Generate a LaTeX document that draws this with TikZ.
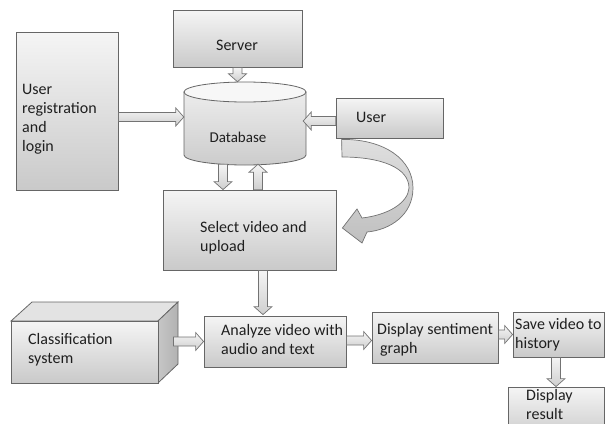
\documentclass[tikz,border=0pt]{standalone}
\usepackage{fontspec}
\setmainfont{Carlito}
\usetikzlibrary{calc}
\tikzset{
  boxsty/.style={draw=black!60, top color=gray!8, bottom color=gray!42, line width=0.8pt, inner sep=0pt},
  txt/.style={font=\fontsize{16}{19}\selectfont, align=left, inner sep=0pt, text=black!88},
  barrowsty/.style={draw=black!55, top color=gray!8, bottom color=gray!38, line width=0.7pt, line join=miter},
  curvesty/.style={draw=black!55, top color=gray!25, bottom color=gray!50, line width=0.7pt},
}
% block arrow from #1 to #2
\newcommand\blockarrow[2]{%
  \path let \p1=(#1), \p2=(#2) in \pgfextra{%
    \pgfmathsetmacro\tmpA{atan2((\y2)-(\y1),(\x2)-(\x1))}\xdef\baAng{\tmpA}%
    \pgfmathsetmacro\tmpL{veclen((\x2)-(\x1),(\y2)-(\y1))}\xdef\baLen{\tmpL}};
  \draw[barrowsty, shift={(#1)}, rotate=\baAng]
    (0,-4.5) -- ({\baLen-8},-4.5) -- ({\baLen-8},-9) -- (\baLen,0)
    -- ({\baLen-8},9) -- ({\baLen-8},4.5) -- (0,4.5) -- cycle;
}
\begin{document}
\begin{tikzpicture}[x=1pt,y=-1pt]
\useasboundingbox (0,0) rectangle (605,423);

% boxes
\node[boxsty, minimum width=129, minimum height=57] (server) at (237.5,38.5) {};
\node[txt] (servertxt) at (237,45) {Server};

\node[boxsty, minimum width=102, minimum height=158] (reg) at (67,111) {};
\node[txt, anchor=west] (regtxt) at (22,119) {User\\registration\\and\\login};

\node[boxsty, minimum width=107, minimum height=40] (user) at (389.5,118) {};
\node[txt, anchor=west] (usertxt) at (356,117) {User};

% database cylinder
\node[minimum width=122, minimum height=83, inner sep=0pt] (db) at (245,123.5) {};
\path[boxsty, top color=gray!15, bottom color=gray!40]
  (184,92) -- (184,155) .. controls (184,160.5) and (211.3,165) .. (245,165)
  .. controls (278.7,165) and (306,160.5) .. (306,155) -- (306,92) -- cycle;
\draw[black!60, line width=0.8pt, fill=gray!6] (245,92) ellipse [x radius=61, y radius=10];
\node[txt, font=\fontsize{15}{18}\selectfont] (dbtxt) at (238,137) {Database};

\node[boxsty, minimum width=173, minimum height=80] (sel) at (249.5,230) {};
\node[txt, anchor=west] (seltxt) at (200,238) {Select video and\\upload};

% classification 3D box
\path[draw=black!60, line width=0.8pt, fill=gray!22] (11,321) -- (32,302) -- (178,302) -- (158,321) -- cycle;
\path[draw=black!60, line width=0.8pt, left color=gray!45, right color=gray!60] (158,321) -- (178,302) -- (178,364) -- (158,383) -- cycle;
\node[boxsty, minimum width=147, minimum height=62] (class) at (84.5,352) {};
\node[txt, anchor=west] (classtxt) at (28,350) {Classification\\system};

\node[boxsty, minimum width=142, minimum height=51] (ana) at (275,341.5) {};
\node[txt, anchor=west] (anatxt) at (221,339) {Analyze video with\\audio and text};

\node[boxsty, minimum width=126, minimum height=51] (disp) at (435,337.5) {};
\node[txt, anchor=west] (disptxt) at (377,340) {Display sentiment\\\hspace*{3pt}graph};

\node[boxsty, minimum width=91, minimum height=45] (save) at (558.5,334.5) {};
\node[txt, anchor=west] (savetxt) at (515,335) {Save video to\\history};

\node[boxsty, minimum width=96, minimum height=53] (res) at (556,413.5) {};
\node[txt, anchor=west, font=\fontsize{16}{18.5}\selectfont] (restxt) at (526,404.5) {Display\\result};

% arrow end points
\coordinate (a1) at (server.south |- db.north);
\coordinate (r0) at ($(reg.east)+(0,6)$);
\coordinate (r1) at (r0 -| db.west);
\coordinate (u0) at ($(user.west)+(0,3)$);
\coordinate (u1t) at (db.east |- u0);
\coordinate (u1) at ($(u1t)+(-3,0)$);
\coordinate (sn) at (db.south -| sel.north);
\coordinate (d0) at ($(sn)+(-26.5,-1)$);
\coordinate (d1) at ($(sel.north)+(-26.5,0)$);
\coordinate (e0) at ($(sel.north)+(8.5,0)$);
\coordinate (e1) at ($(sn)+(8.5,-1)$);
\coordinate (f0) at ($(sel.south)+(13.5,0)$);
\coordinate (f1t) at (f0 |- ana.north);
\coordinate (f1) at ($(f1t)+(0,-1)$);
\coordinate (g0t) at (class.east |- ana.west);
\coordinate (g0) at ($(g0t)+(15,0)$);
\coordinate (h0) at ($(ana.east)+(0,-1)$);
\coordinate (h1) at (h0 -| disp.west);
\coordinate (i0) at (disp.east |- save.west);
\coordinate (j0) at ($(save.south)+(-2.5,0)$);
\coordinate (j1) at (j0 |- res.north);

% block arrows
\blockarrow{server.south}{a1}
\blockarrow{r0}{r1}
\blockarrow{u0}{u1}
\blockarrow{d0}{d1}
\blockarrow{e0}{e1}
\blockarrow{f0}{f1}
\blockarrow{g0}{ana.west}
\blockarrow{h0}{h1}
\blockarrow{i0}{save.west}
\blockarrow{j0}{j1}

% curved arrow from User to Select video
\coordinate (cstart) at ($(user.south west)+(6,1)$);
\coordinate (ctip) at ($(sel.east)+(6,-2)$);
\path[curvesty] (cstart) .. controls (385,139) and (413,160) .. (413,188)
  .. controls (413,215) and (390,230) .. (367,232)
  -- (362,243) -- (ctip) -- (357,209) -- (362,218)
  .. controls (388,215) and (408,203) .. (409,188)
  .. controls (409,168) and (382,157) .. (342,157) -- cycle;
\end{tikzpicture}
\end{document}
